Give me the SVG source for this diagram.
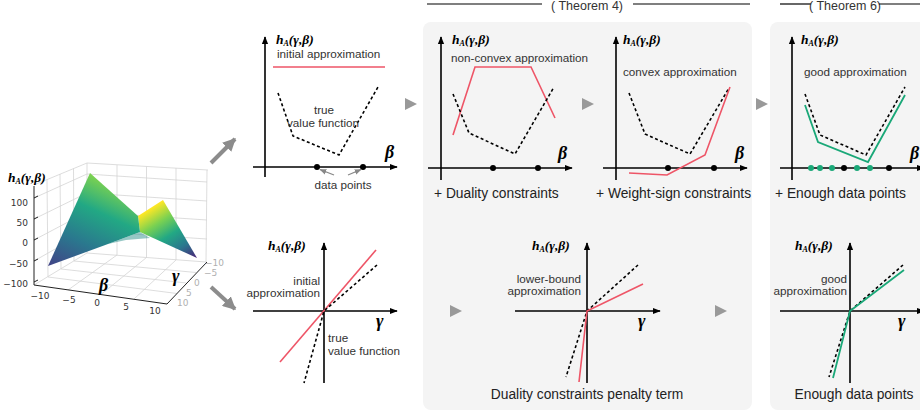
<svg xmlns="http://www.w3.org/2000/svg" width="920" height="412" viewBox="0 0 920 412">
<style>
.ax{stroke:#000;stroke-width:1.6;fill:none;marker-end:url(#ah)}
.lbl{font-family:"Liberation Sans",Arial,sans-serif;font-size:11.7px;fill:#333}
.cap{font-family:"Liberation Sans",Arial,sans-serif;font-size:13.8px;fill:#222}
.math{font-family:"Liberation Serif","DejaVu Serif",serif;font-style:italic;font-weight:bold;font-size:13.5px;fill:#000}
.big{font-family:"Liberation Serif","DejaVu Serif",serif;font-style:italic;font-weight:bold;font-size:18px;fill:#000}
.red{stroke:#ee5567;stroke-width:1.6;fill:none}
.grn{stroke:#1aa878;stroke-width:1.8;fill:none}
.dash{stroke:#000;stroke-width:1.6;stroke-dasharray:3 2.5;fill:none}
.play{fill:#999}
.garr{stroke:#8c8c8c;stroke-width:4;fill:none;marker-end:url(#gh)}
.sarr{stroke:#888;stroke-width:1.3;fill:none;marker-end:url(#sh)}
.grid{stroke:#d4d4d4;stroke-width:0.8;fill:none}
.tick{font-family:"DejaVu Sans",sans-serif;font-size:9px;fill:#333}
.tickg{font-family:"DejaVu Sans",sans-serif;font-size:9px;fill:#b0b0b0}
.panel{fill:#f4f4f4}
.hdr{font-family:"Liberation Sans",Arial,sans-serif;font-size:12.5px;fill:#333}
</style>
<defs>
<marker id="ah" viewBox="0 0 10 10" refX="9" refY="5" markerWidth="8" markerHeight="8" markerUnits="userSpaceOnUse" orient="auto"><path d="M0,1 L10,5 L0,9 z" fill="#000"/></marker>
<marker id="gh" viewBox="0 0 10 10" refX="9" refY="5" markerWidth="13" markerHeight="13" markerUnits="userSpaceOnUse" orient="auto"><path d="M0,0 L10,5 L0,10 z" fill="#8c8c8c"/></marker>
<marker id="sh" viewBox="0 0 10 10" refX="9" refY="5" markerWidth="7" markerHeight="7" markerUnits="userSpaceOnUse" orient="auto"><path d="M0,1 L10,5 L0,9 z" fill="#888"/></marker>
<linearGradient id="gL" x1="50" y1="266" x2="92" y2="176" gradientUnits="userSpaceOnUse"><stop offset="0" stop-color="#414487"/><stop offset="0.35" stop-color="#2a788e"/><stop offset="0.7" stop-color="#22a884"/><stop offset="1" stop-color="#7ad151"/></linearGradient>
<linearGradient id="gR" x1="161" y1="202" x2="196" y2="257" gradientUnits="userSpaceOnUse"><stop offset="0" stop-color="#fde725"/><stop offset="0.25" stop-color="#7ad151"/><stop offset="0.5" stop-color="#22a884"/><stop offset="0.75" stop-color="#2a788e"/><stop offset="1" stop-color="#482878"/></linearGradient>
</defs>

<!-- header -->
<g id="header">
<line x1="427" y1="4" x2="542" y2="4" stroke="#000" stroke-width="1.2"/>
<text class="hdr" x="587" y="10" text-anchor="middle">( Theorem 4)</text>
<line x1="633" y1="4" x2="750" y2="4" stroke="#000" stroke-width="1.2"/>
<line x1="780" y1="4" x2="811" y2="4" stroke="#000" stroke-width="1.2"/>
<text class="hdr" x="845" y="10" text-anchor="middle">( Theorem 6)</text>
<line x1="879" y1="4" x2="920" y2="4" stroke="#000" stroke-width="1.2"/>
</g>

<!-- panels -->
<g id="panels">
<rect class="panel" x="423" y="22" width="329" height="388" rx="8"/>
<rect class="panel" x="770" y="22" width="170" height="388" rx="8"/>
</g>

<!-- 3D surface plot -->
<g id="surface3d">
<g class="grid">
<polyline points="34,185 87,163 208,170"/>
<line x1="87" y1="163" x2="87" y2="253"/>
<line x1="87" y1="253" x2="206" y2="262"/>
<line x1="87" y1="253" x2="34" y2="285"/>
<line x1="34" y1="198" x2="87" y2="174"/>
<line x1="34" y1="219" x2="87" y2="193"/>
<line x1="34" y1="240" x2="87" y2="212"/>
<line x1="34" y1="261" x2="87" y2="231"/>
<line x1="47" y1="179.5" x2="48" y2="277"/>
<line x1="60" y1="174" x2="61" y2="269"/>
<line x1="73.5" y1="168.5" x2="74" y2="261"/>
<line x1="87" y1="174" x2="207" y2="182"/>
<line x1="87" y1="193" x2="207" y2="201"/>
<line x1="87" y1="212" x2="207" y2="220"/>
<line x1="87" y1="231" x2="207" y2="239"/>
<line x1="117" y1="165" x2="117" y2="255"/>
<line x1="146.5" y1="166.5" x2="146.5" y2="257.5"/>
<line x1="176" y1="168" x2="176" y2="260"/>
<line x1="207" y1="170" x2="206" y2="262"/>
<line x1="68" y1="290" x2="117" y2="255"/>
<line x1="101" y1="294.5" x2="146.5" y2="257.5"/>
<line x1="134" y1="299" x2="176" y2="260"/>
<line x1="48" y1="277" x2="177" y2="293.5"/>
<line x1="61" y1="269" x2="186.5" y2="283"/>
<line x1="74" y1="261" x2="196" y2="272.5"/>
</g>
<polygon points="138,216 163,200 197,258 140,232" fill="url(#gR)"/>
<polygon points="48,266 90,173 138,216 140,232 108,244" fill="url(#gL)"/>
<polygon points="108,244 140,232 150,238 126,240" fill="#2f8f8b" opacity="0.5"/>
<line x1="34" y1="186" x2="34" y2="285" stroke="#222" stroke-width="1"/>
<line x1="34" y1="285" x2="167" y2="304" stroke="#222" stroke-width="1"/>
<line x1="167" y1="304" x2="207" y2="262" stroke="#222" stroke-width="1"/>
<g stroke="#222" stroke-width="1">
<line x1="34" y1="198" x2="38" y2="196"/><line x1="34" y1="219" x2="38" y2="217"/><line x1="34" y1="240" x2="38" y2="238"/><line x1="34" y1="261" x2="38" y2="259"/><line x1="34" y1="282" x2="38" y2="280"/>
</g>
<text class="tick" x="28" y="206" text-anchor="end">100</text>
<text class="tick" x="28" y="226" text-anchor="end">50</text>
<text class="tick" x="28" y="246" text-anchor="end">0</text>
<text class="tick" x="28" y="267" text-anchor="end">−50</text>
<text class="tick" x="28" y="287" text-anchor="end">−100</text>
<text class="tick" x="40" y="299" text-anchor="middle">−10</text>
<text class="tick" x="69" y="303" text-anchor="middle">−5</text>
<text class="tick" x="97" y="306" text-anchor="middle">0</text>
<text class="tick" x="126" y="310" text-anchor="middle">5</text>
<text class="tick" x="155" y="314" text-anchor="middle">10</text>
<text class="tickg" x="205" y="266">−10</text>
<text class="tickg" x="204" y="276">−5</text>
<text class="tickg" x="194" y="286">0</text>
<text class="tickg" x="186" y="296">5</text>
<text class="tickg" x="177" y="306">10</text>
<text class="math" x="8" y="182" font-size="14">h<tspan font-size="8" dy="2">A</tspan><tspan dy="-2">(γ,β)</tspan></text>
<text class="big" x="99" y="291" font-size="20">β</text>
<text class="big" x="172" y="282" font-size="20">γ</text>
</g>

<!-- top-left: initial -->
<g id="plot-initial-beta">
<line class="ax" x1="265" y1="177" x2="265" y2="37"/>
<line class="ax" x1="253" y1="167" x2="397" y2="167"/>
<text class="math" x="276" y="44">h<tspan font-size="8" dy="2">A</tspan><tspan dy="-2">(γ,β)</tspan></text>
<text class="lbl" x="277" y="58">initial approximation</text>
<line class="red" x1="273" y1="67" x2="385" y2="67"/>
<polyline class="dash" points="278,93 293,136 339,155 378,87"/>
<text class="lbl" x="324" y="114" text-anchor="middle">true</text>
<text class="lbl" x="323" y="127" text-anchor="middle">value function</text>
<circle cx="317" cy="167" r="3"/>
<circle cx="363" cy="167" r="3"/>
<text class="big" x="385" y="158" font-size="17">β</text>
<text class="lbl" x="343" y="189" text-anchor="middle">data points</text>
<line class="sarr" x1="334" y1="175" x2="320" y2="169.5"/>
<line class="sarr" x1="348" y1="175" x2="361" y2="169.5"/>
</g>

<!-- top: non-convex -->
<g id="plot-nonconvex">
<line class="ax" x1="441" y1="180" x2="441" y2="37"/>
<line class="ax" x1="428" y1="168" x2="572" y2="168"/>
<text class="math" x="452" y="44">h<tspan font-size="8" dy="2">A</tspan><tspan dy="-2">(γ,β)</tspan></text>
<text class="lbl" x="451" y="62">non-convex approximation</text>
<polyline class="red" points="453,135 475,67 531,67 555,118"/>
<polyline class="dash" points="453,94 469,133 515,154 554,87"/>
<circle cx="493" cy="168" r="3"/>
<circle cx="538" cy="168" r="3"/>
<text class="big" x="558" y="159" font-size="17">β</text>
<text class="cap" x="434" y="198">+ Duality constraints</text>
</g>

<!-- top: convex -->
<g id="plot-convex">
<line class="ax" x1="616" y1="180" x2="616" y2="37"/>
<line class="ax" x1="603" y1="168" x2="747" y2="168"/>
<text class="math" x="623" y="44">h<tspan font-size="8" dy="2">A</tspan><tspan dy="-2">(γ,β)</tspan></text>
<text class="lbl" x="623" y="76">convex approximation</text>
<polyline class="dash" points="629,93 645,134 690,154 729,88"/>
<polyline class="red" points="629,173 667,175 705,155 730,87"/>
<circle cx="668" cy="168" r="3"/>
<circle cx="714" cy="168" r="3"/>
<text class="big" x="735" y="159" font-size="17">β</text>
<text class="cap" x="596" y="198">+ Weight-sign constraints</text>
</g>

<!-- top: good -->
<g id="plot-good-beta">
<line class="ax" x1="792" y1="180" x2="792" y2="37"/>
<line class="ax" x1="780" y1="168" x2="924" y2="168"/>
<text class="math" x="801" y="44">h<tspan font-size="8" dy="2">A</tspan><tspan dy="-2">(γ,β)</tspan></text>
<text class="lbl" x="804" y="76">good approximation</text>
<polyline class="dash" points="805,94 820,135 866,155 905,87"/>
<polyline class="grn" points="805,105 818,142 868,162 905,95"/>
<circle cx="811" cy="168" r="3" fill="#1aa878"/>
<circle cx="820" cy="168" r="3" fill="#1aa878"/>
<circle cx="832" cy="168" r="3" fill="#1aa878"/>
<circle cx="844" cy="168" r="3"/>
<circle cx="857" cy="168" r="3" fill="#1aa878"/>
<circle cx="870" cy="168" r="3" fill="#1aa878"/>
<circle cx="889" cy="168" r="3"/>
<text class="big" x="910" y="159" font-size="17">β</text>
<text class="cap" x="775" y="198">+ Enough data points</text>
</g>

<!-- bottom-left: initial gamma -->
<g id="plot-initial-gamma">
<line class="ax" x1="324" y1="383" x2="324" y2="243"/>
<line class="ax" x1="253" y1="311" x2="397" y2="311"/>
<text class="math" x="268" y="250">h<tspan font-size="8" dy="2">A</tspan><tspan dy="-2">(γ,β)</tspan></text>
<text class="lbl" x="320" y="285" text-anchor="end">initial</text>
<text class="lbl" x="320" y="297" text-anchor="end">approximation</text>
<line class="red" x1="280" y1="362" x2="376" y2="250"/>
<polyline class="dash" points="377,265 324,311 304,383"/>
<text class="lbl" x="328" y="342">true</text>
<text class="lbl" x="328" y="355">value function</text>
<text class="big" x="376" y="327" font-size="17">γ</text>
</g>

<!-- bottom-middle: lower bound -->
<g id="plot-lowerbound">
<line class="ax" x1="587" y1="383" x2="587" y2="243"/>
<line class="ax" x1="515" y1="311" x2="660" y2="311"/>
<text class="math" x="532" y="250">h<tspan font-size="8" dy="2">A</tspan><tspan dy="-2">(γ,β)</tspan></text>
<text class="lbl" x="581" y="283" text-anchor="end">lower-bound</text>
<text class="lbl" x="581" y="295" text-anchor="end">approximation</text>
<polyline class="dash" points="638,265 587,311 566,377"/>
<polyline class="red" points="643,284 587,311 579,382"/>
<text class="big" x="638" y="327" font-size="17">γ</text>
<text class="cap" x="587" y="399" text-anchor="middle">Duality constraints penalty term</text>
</g>

<!-- bottom-right: good gamma -->
<g id="plot-good-gamma">
<line class="ax" x1="850" y1="383" x2="850" y2="243"/>
<line class="ax" x1="780" y1="311" x2="924" y2="311"/>
<text class="math" x="795" y="250">h<tspan font-size="8" dy="2">A</tspan><tspan dy="-2">(γ,β)</tspan></text>
<text class="lbl" x="847" y="283" text-anchor="end">good</text>
<text class="lbl" x="847" y="295" text-anchor="end">approximation</text>
<polyline class="dash" points="903,265 850,311 829,377"/>
<polyline class="grn" points="904,270 850,311 833,378"/>
<text class="big" x="898" y="327" font-size="17">γ</text>
<text class="cap" x="854" y="399" text-anchor="middle">Enough data points</text>
</g>

<!-- connectors -->
<g id="connectors">
<line class="garr" x1="211" y1="163" x2="235" y2="139"/>
<line class="garr" x1="211" y1="287" x2="235" y2="309"/>
<polygon class="play" points="405,98 417,104 405,110"/>
<polygon class="play" points="582,98 594,104 582,110"/>
<polygon class="play" points="756,98 768,104 756,110"/>
<polygon class="play" points="450,305 462,311 450,317"/>
<polygon class="play" points="715,305 727,311 715,317"/>
</g>
</svg>
